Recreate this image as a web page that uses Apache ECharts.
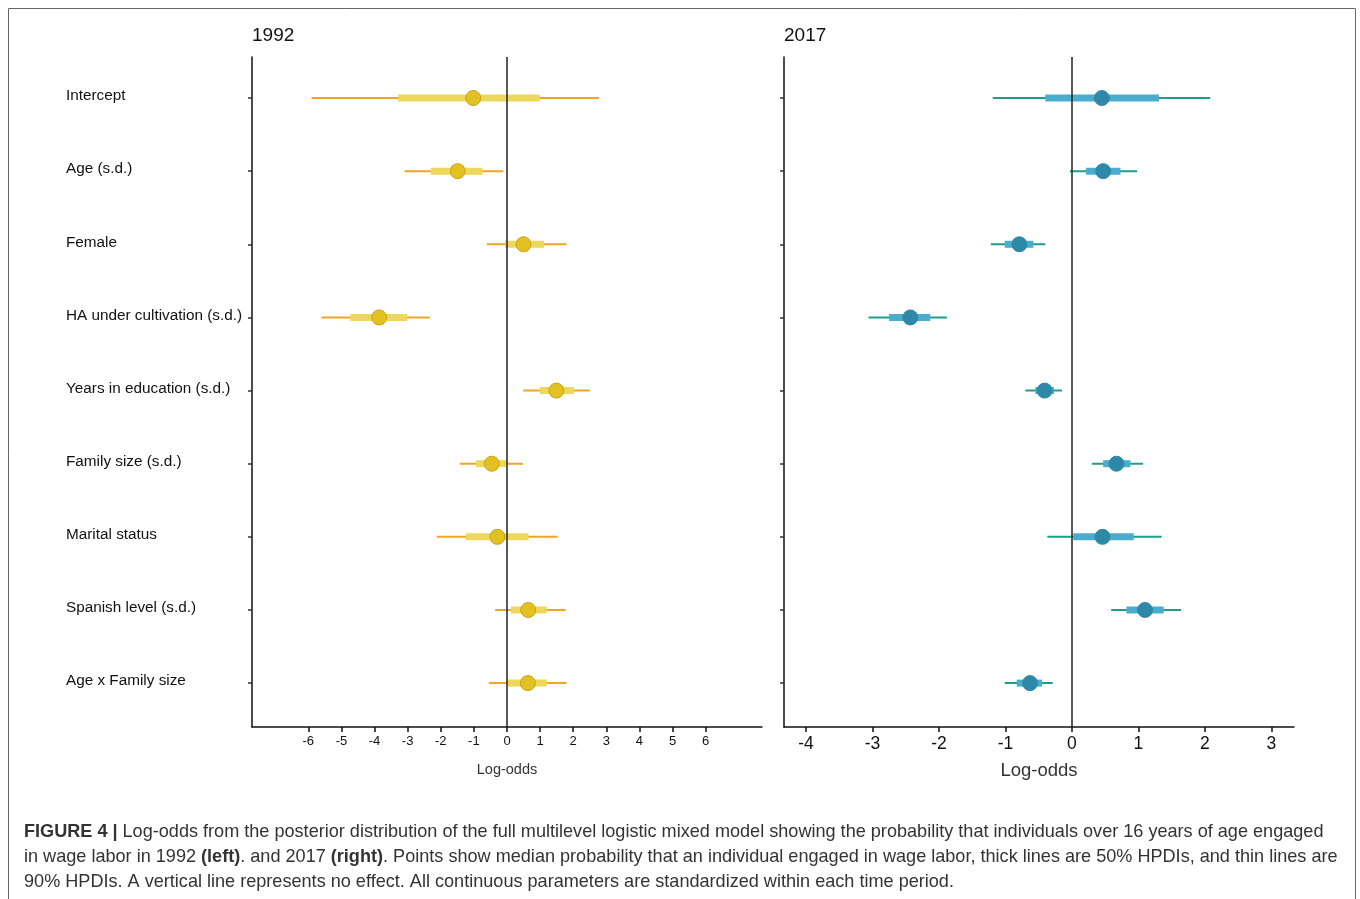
<!DOCTYPE html>
<html>
<head>
<meta charset="utf-8">
<script src="https://cdn.jsdelivr.net/npm/echarts@6/dist/echarts.min.js"></script>
<style>html,body{margin:0;padding:0;background:#fff;}#c{width:1360px;height:899px;}</style>
</head>
<body>
<div id="c"></div>
<script>
const categories = ['Intercept','Age (s.d.)','Female','HA under cultivation (s.d.)','Years in education (s.d.)','Family size (s.d.)','Marital status','Spanish level (s.d.)','Age x Family size'];

const lo90_1992 = [-5.90,-3.09,-0.61,-5.60,0.49,-1.43,-2.12,-0.36,-0.55];
const lo50_1992 = [-3.29,-2.30,-0.06,-4.73,0.99,-0.94,-1.24,0.12,0.01];
const med_1992  = [-1.02,-1.49,0.50,-3.86,1.49,-0.46,-0.29,0.64,0.63];
const hi50_1992 = [0.99,-0.74,1.12,-3.02,2.02,-0.01,0.65,1.20,1.20];
const hi90_1992 = [2.78,-0.11,1.80,-2.33,2.50,0.48,1.53,1.77,1.80];

const lo90_2017 = [-1.19,-0.03,-1.22,-3.06,-0.70,0.30,-0.37,0.59,-1.01];
const lo50_2017 = [-0.40,0.21,-1.01,-2.75,-0.55,0.47,0.02,0.82,-0.83];
const med_2017  = [0.45,0.47,-0.79,-2.43,-0.41,0.67,0.46,1.10,-0.63];
const hi50_2017 = [1.31,0.73,-0.58,-2.13,-0.27,0.88,0.93,1.38,-0.45];
const hi90_2017 = [2.08,0.98,-0.40,-1.88,-0.15,1.07,1.35,1.64,-0.29];

const xTicks1992 = [-6,-5,-4,-3,-2,-1,0,1,2,3,4,5,6];
const xTicks2017 = [-4,-3,-2,-1,0,1,2,3];
const rowTicks = [0,1,2,3,4,5,6,7,8];

const chart = echarts.init(document.getElementById('c'), null, {renderer:'canvas'});
const FONT = 'Liberation Sans, Arial, sans-serif';

function intervalData(lo90, lo50, hi50, hi90){
  return categories.map((c,i)=>[lo90[i], lo50[i], hi50[i], hi90[i], i]);
}
function intervalSeries(idx, data, thinColor, thickColor){
  return {
    type:'custom', xAxisIndex:idx, yAxisIndex:idx, z:2,
    data: data,
    encode:{x:[0,1,2,3], y:4},
    renderItem: function(params, api){
      const y = api.value(4);
      const a = api.coord([api.value(0), y]);
      const b = api.coord([api.value(1), y]);
      const c = api.coord([api.value(2), y]);
      const d = api.coord([api.value(3), y]);
      return {type:'group', children:[
        {type:'line', shape:{x1:a[0],y1:a[1],x2:d[0],y2:d[1]}, style:{stroke:thinColor, lineWidth:2}},
        {type:'line', shape:{x1:b[0],y1:b[1],x2:c[0],y2:c[1]}, style:{stroke:thickColor, lineWidth:7}}
      ]};
    }
  };
}
function pointSeries(idx, med, fill, border){
  return {
    type:'scatter', xAxisIndex:idx, yAxisIndex:idx, z:5,
    symbolSize:15,
    itemStyle:{color:fill, borderColor:border, borderWidth:1, opacity:1},
    emphasis:{disabled:true},
    data: med.map((v,i)=>[v,i]),
    markLine:{
      silent:true, symbol:'none', z:3,
      label:{show:false},
      lineStyle:{color:'#222', width:1.5, type:'solid'},
      data:[{xAxis:0}]
    }
  };
}
function xAxisCfg(idx, min, max, ticks, fs, nameFs, nameGap){
  return {
    gridIndex:idx, type:'value', min:min, max:max,
    name:'Log-odds', nameLocation:'middle', nameGap:nameGap,
    nameTextStyle:{color:'#333', fontSize:nameFs, fontFamily:FONT},
    axisLine:{show:true, onZero:false, lineStyle:{color:'#111', width:1.5}},
    axisTick:{show:true, customValues:ticks, length:5, lineStyle:{color:'#111', width:1.5}},
    axisLabel:{show:true, customValues:ticks, color:'#111', fontSize:fs, margin:8, fontFamily:FONT},
    splitLine:{show:false}
  };
}
function yAxisCfg(idx, showLabels){
  return {
    gridIndex:idx, type:'value', inverse:true, min:-0.561, max:8.6,
    axisLine:{show:true, onZero:false, lineStyle:{color:'#111', width:1.5}},
    axisTick:{show:true, customValues:rowTicks, length:4, lineStyle:{color:'#333', width:1.5}},
    axisLabel:{show:showLabels, customValues:rowTicks, align:'left', margin:186,
      color:'#111', fontSize:15.3, verticalAlign:'bottom', lineHeight:4,
      fontFamily:FONT,
      formatter:function(v){ return categories[Math.round(v)]; }},
    splitLine:{show:false}
  };
}

const option = {
  animation:false,
  backgroundColor:'#fff',
  title:[
    {text:'1992', left:247, top:21, textStyle:{fontSize:19, fontWeight:'normal', color:'#111', fontFamily:FONT}},
    {text:'2017', left:779, top:21, textStyle:{fontSize:19, fontWeight:'normal', color:'#111', fontFamily:FONT}}
  ],
  grid:[
    {left:252, right:598, top:57, bottom:172},
    {left:784, right:66, top:57, bottom:172}
  ],
  xAxis:[
    xAxisCfg(0, -7.7, 7.7, xTicks1992, 13, 14.5, 35),
    xAxisCfg(1, -4.33, 3.34, xTicks2017, 17.5, 18.5, 34)
  ],
  yAxis:[ yAxisCfg(0, true), yAxisCfg(1, false) ],
  series:[
    intervalSeries(0, intervalData(lo90_1992, lo50_1992, hi50_1992, hi90_1992), '#F0A526', '#EDD85C'),
    pointSeries(0, med_1992, '#E3C122', '#C9A418'),
    intervalSeries(1, intervalData(lo90_2017, lo50_2017, hi50_2017, hi90_2017), '#1E9E88', '#4AADD0'),
    pointSeries(1, med_2017, '#2E89A8', '#2E89A8')
  ],
  graphic:[
    {type:'rect', silent:true, z:100, shape:{x:8.5, y:8.5, width:1347, height:920}, style:{fill:'none', stroke:'#666', lineWidth:1}},
    {type:'text', left:24, top:819, z:100, style:{
      text:'{b|FIGURE 4 |} Log-odds from the posterior distribution of the full multilevel logistic mixed model showing the probability that individuals over 16 years of age engaged\n' +
           'in wage labor in 1992 {b|(left)}. and 2017 {b|(right)}. Points show median probability that an individual engaged in wage labor, thick lines are 50% HPDIs, and thin lines are\n' +
           '90% HPDIs. A vertical line represents no effect. All continuous parameters are standardized within each time period.',
      fill:'#333', fontSize:18.1, lineHeight:25, fontFamily:FONT,
      rich:{b:{fontWeight:'bold', fill:'#333', fontSize:18.1, lineHeight:25, fontFamily:FONT}}
    }}
  ]
};
chart.setOption(option);
</script>
</body>
</html>
